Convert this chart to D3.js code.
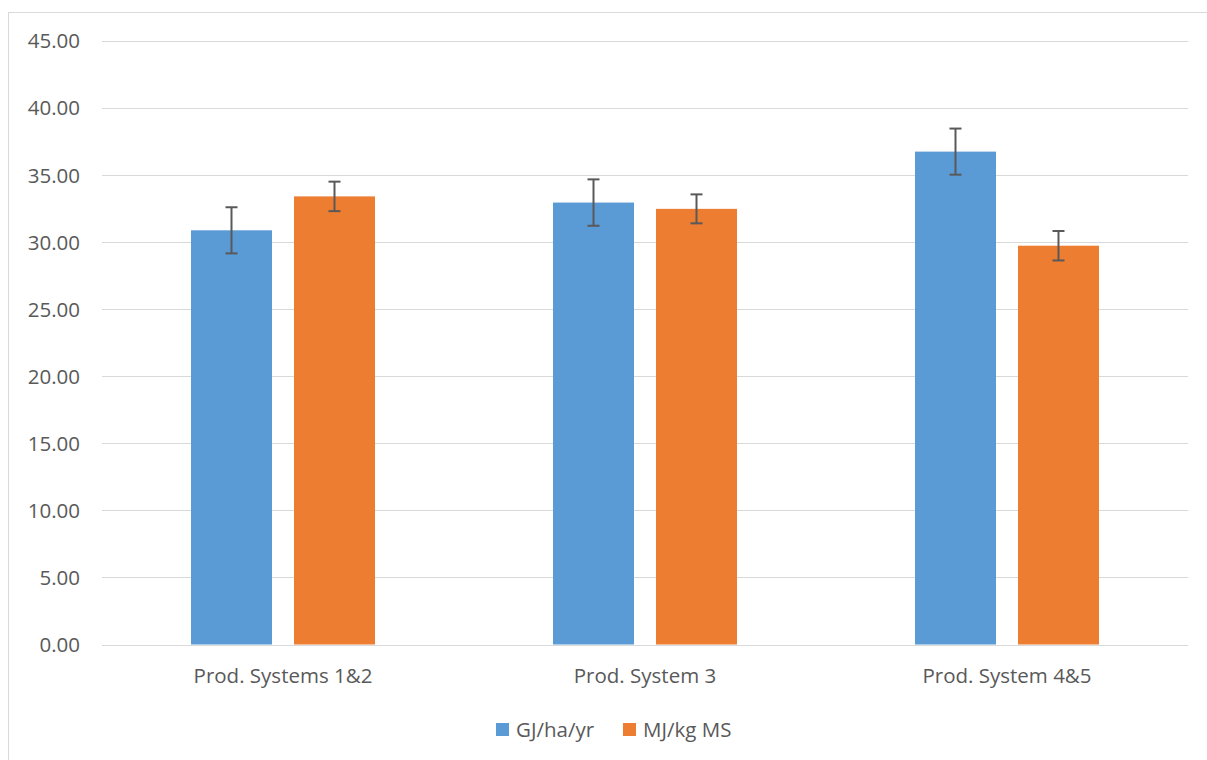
<!DOCTYPE html>
<html><head><meta charset="utf-8">
<script src="https://cdn.jsdelivr.net/npm/d3@7"></script>
<style>body{margin:0;background:#fff}svg{display:block}text{font-family:"Open Sans","Noto Sans",sans-serif;fill:#595959}</style>
</head><body>
<svg id="c" width="1207" height="760"></svg>
<script>
const categories = ["Prod. Systems 1&2", "Prod. System 3", "Prod. System 4&5"];
const seriesNames = ["GJ/ha/yr", "MJ/kg MS"];
const gjValues = [30.9, 32.97, 36.77];
const gjErrors = [1.72, 1.73, 1.72];
const mjValues = [33.43, 32.5, 29.75];
const mjErrors = [1.1, 1.08, 1.1];
const yTicks = [0, 5, 10, 15, 20, 25, 30, 35, 40, 45];
const colors = ["#5b9bd5", "#ed7d31"];

(function () {
const svg = d3.select("#c");
svg.append("rect").attr("x", 8.5).attr("y", 12.5).attr("width", 1220).attr("height", 760)
  .attr("fill", "none").attr("stroke", "#d9d9d9");

const pLeft = 102, pRight = 1188, pTop = 41.3, pBottom = 644.5;
const fs = 20.5;
const y = d3.scaleLinear().domain([0, 45]).range([pBottom, pTop]);
const x0 = d3.scaleBand().domain(categories).range([pLeft, pRight]).paddingInner(0).paddingOuter(0);
const x1 = d3.scaleBand().domain(seriesNames).range([89, 89 + 184]).paddingInner(22 / 103).paddingOuter(0);

const g = svg.append("g");
g.selectAll("line.grid").data(yTicks).join("line").attr("class", "grid")
  .attr("x1", pLeft).attr("x2", pRight).attr("y1", d => Math.round(y(d)) + 0.5).attr("y2", d => Math.round(y(d)) + 0.5)
  .attr("stroke", "#d9d9d9").attr("stroke-width", 1);
g.selectAll("text.yl").data(yTicks).join("text").attr("class", "yl")
  .attr("x", 80).attr("y", d => y(d)).attr("dy", "0.35em").attr("text-anchor", "end")
  .attr("font-size", fs).text(d => d.toFixed(2));

const data = [];
categories.forEach((c, i) => {
  data.push({c, s: seriesNames[0], v: gjValues[i], e: gjErrors[i], col: colors[0]});
  data.push({c, s: seriesNames[1], v: mjValues[i], e: mjErrors[i], col: colors[1]});
});

g.selectAll("rect.bar").data(data).join("rect").attr("class", "bar")
  .attr("x", d => x0(d.c) + x1(d.s)).attr("width", x1.bandwidth())
  .attr("y", d => y(d.v)).attr("height", d => y(0) - y(d.v)).attr("fill", d => d.col);

const eb = g.selectAll("g.err").data(data).join("g").attr("class", "err")
  .attr("stroke", "#595959").attr("stroke-width", 2);
const cx = d => x0(d.c) + x1(d.s) + x1.bandwidth() / 2;
eb.append("line").attr("x1", cx).attr("x2", cx).attr("y1", d => y(d.v + d.e)).attr("y2", d => y(d.v - d.e));
eb.append("line").attr("x1", d => cx(d) - 6).attr("x2", d => cx(d) + 6).attr("y1", d => y(d.v + d.e)).attr("y2", d => y(d.v + d.e));
eb.append("line").attr("x1", d => cx(d) - 6).attr("x2", d => cx(d) + 6).attr("y1", d => y(d.v - d.e)).attr("y2", d => y(d.v - d.e));

g.selectAll("text.xl").data(categories).join("text").attr("class", "xl")
  .attr("x", d => x0(d) + x0.bandwidth() / 2).attr("y", 683).attr("text-anchor", "middle")
  .attr("font-size", fs).text(d => d);

const legX = [496, 623];
const lg = g.selectAll("g.leg").data(seriesNames).join("g").attr("class", "leg")
  .attr("transform", (d, i) => `translate(${legX[i]},723)`);
lg.append("rect").attr("width", 13).attr("height", 13).attr("fill", (d, i) => colors[i]);
lg.append("text").attr("x", 20).attr("y", 6.5).attr("dy", "0.35em").attr("font-size", fs).text(d => d);
})();
</script>
</body></html>
